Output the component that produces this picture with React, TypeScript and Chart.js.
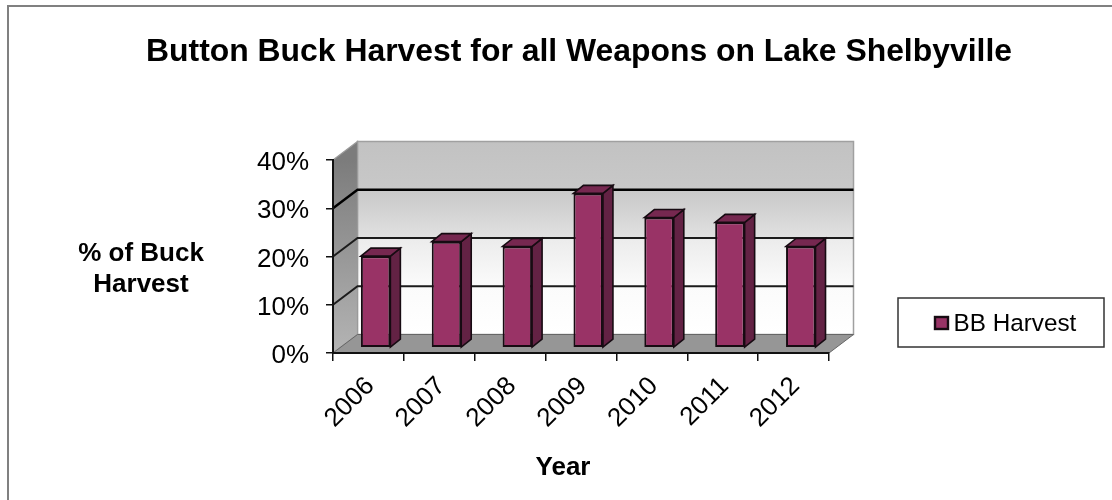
import React, { useEffect, useRef } from "react";
import { Chart, registerables } from "chart.js";

Chart.register(...registerables);

const years = ["2006", "2007", "2008", "2009", "2010", "2011", "2012"];
const bbHarvest = [19, 22, 21, 32, 27, 26, 21];
const seriesName = "BB Harvest";
const chartTitle = "Button Buck Harvest for all Weapons on Lake Shelbyville";
const xTitle = "Year";
const yTitleLines = ["% of Buck", "Harvest"];

const FONT = '"Liberation Sans", Arial, sans-serif';
const DEPTH_X = 24.5;
const DEPTH_Y = -18.5;
const BAR_SHIFT_X = 7.2;
const BAR_SHIFT_Y = -5.2;
const BAR_DX = 10;
const BAR_DY = -8;
const BAR_FILL = "#993366";
const BAR_SIDE = "#632244";
const BAR_TOP = "#762850";
const BAR_EDGE = "#170b12";

const poly = (ctx: CanvasRenderingContext2D, pts: number[][]) => {
  ctx.beginPath();
  pts.forEach(([x, y], i) => (i ? ctx.lineTo(x, y) : ctx.moveTo(x, y)));
  ctx.closePath();
};

const scene3d = {
  id: "scene3d",
  beforeDraw(chart: any) {
    const { ctx, chartArea: a, scales } = chart;
    const { left: l, right: r, top: t, bottom: b } = a;
    const dx = DEPTH_X;
    const dy = DEPTH_Y;
    ctx.save();
    ctx.fillStyle = "#fff";
    ctx.fillRect(0, 0, chart.width, chart.height);

    // chart frame (only the top and left edges reach inside the picture)
    ctx.strokeStyle = "#808080";
    ctx.lineWidth = 2;
    ctx.beginPath();
    ctx.moveTo(8, chart.height);
    ctx.lineTo(8, 6);
    ctx.lineTo(chart.width, 6);
    ctx.stroke();

    // back wall
    const back = ctx.createLinearGradient(0, t + dy, 0, b + dy);
    back.addColorStop(0, "#c2c2c2");
    back.addColorStop(0.25, "#c8c8c8");
    back.addColorStop(0.49, "#e0e0e0");
    back.addColorStop(0.51, "#ececec");
    back.addColorStop(0.75, "#fbfbfb");
    back.addColorStop(1, "#ffffff");
    ctx.fillStyle = back;
    ctx.fillRect(l + dx, t + dy, r - l, b - t);
    ctx.strokeStyle = "#a0a0a0";
    ctx.lineWidth = 1.5;
    ctx.strokeRect(l + dx, t + dy, r - l, b - t);

    // left wall
    const side = ctx.createLinearGradient(0, t, 0, b);
    side.addColorStop(0, "#7c7c7c");
    side.addColorStop(1, "#b4b4b4");
    ctx.fillStyle = side;
    poly(ctx, [[l, t], [l + dx, t + dy], [l + dx, b + dy], [l, b]]);
    ctx.fill();
    ctx.strokeStyle = "#9a9a9a";
    ctx.lineWidth = 1.2;
    ctx.stroke();

    // floor
    ctx.fillStyle = "#969696";
    poly(ctx, [[l, b], [l + dx, b + dy], [r + dx, b + dy], [r, b]]);
    ctx.fill();
    ctx.strokeStyle = "#666";
    ctx.lineWidth = 1;
    ctx.stroke();

    // gridlines across both walls
    const yScale = scales.y;
    yScale.ticks.forEach((tick: any) => {
      if (tick.value <= 0 || tick.value >= 40) return;
      const y = yScale.getPixelForValue(tick.value);
      ctx.strokeStyle = tick.value === 30 ? "#000" : "#1c1c1c";
      ctx.lineWidth = tick.value === 30 ? 2.4 : 2;
      ctx.beginPath();
      ctx.moveTo(l, y);
      ctx.lineTo(l + dx, y + dy);
      ctx.lineTo(r + dx, y + dy);
      ctx.stroke();
    });
    ctx.restore();
  },
  beforeDatasetsDraw(chart: any) {
    const { ctx } = chart;
    ctx.save();
    ctx.translate(BAR_SHIFT_X, BAR_SHIFT_Y);
    ctx.lineWidth = 1.6;
    ctx.strokeStyle = BAR_EDGE;
    ctx.lineJoin = "miter";
    chart.getDatasetMeta(0).data.forEach((el: any) => {
      const x0 = el.x - el.width / 2;
      const x1 = el.x + el.width / 2;
      ctx.fillStyle = BAR_SIDE;
      poly(ctx, [[x1, el.y], [x1 + BAR_DX, el.y + BAR_DY], [x1 + BAR_DX, el.base + BAR_DY], [x1, el.base]]);
      ctx.fill();
      ctx.stroke();
      ctx.fillStyle = BAR_TOP;
      poly(ctx, [[x0, el.y], [x0 + BAR_DX, el.y + BAR_DY], [x1 + BAR_DX, el.y + BAR_DY], [x1, el.y]]);
      ctx.fill();
      ctx.stroke();
    });
  },
  afterDatasetsDraw(chart: any) {
    chart.ctx.restore();
  },
  afterDraw(chart: any) {
    const { ctx } = chart;
    ctx.save();
    ctx.fillStyle = "#000";
    ctx.textBaseline = "alphabetic";
    ctx.textAlign = "center";
    ctx.font = `bold 31.9px ${FONT}`;
    ctx.fillText(chartTitle, 579, 60.5);
    ctx.font = `bold 26px ${FONT}`;
    ctx.fillText(xTitle, 563, 475);
    ctx.fillText(yTitleLines[0], 141, 261);
    ctx.fillText(yTitleLines[1], 141, 292);

    // legend
    ctx.strokeStyle = "#333";
    ctx.lineWidth = 1.5;
    ctx.fillStyle = "#fff";
    ctx.fillRect(898, 298, 206, 49);
    ctx.strokeRect(898, 298, 206, 49);
    ctx.fillStyle = BAR_FILL;
    ctx.strokeStyle = BAR_EDGE;
    ctx.lineWidth = 2.4;
    ctx.fillRect(935, 317, 13, 12);
    ctx.strokeRect(935, 317, 13, 12);
    ctx.fillStyle = "#000";
    ctx.textAlign = "left";
    ctx.font = `24.3px ${FONT}`;
    ctx.fillText(chart.data.datasets[0].label, 953.5, 331);
    ctx.restore();
  },
};

export default function App() {
  const ref = useRef<HTMLCanvasElement | null>(null);
  useEffect(() => {
    const chart = new Chart(ref.current as HTMLCanvasElement, {
      type: "bar",
      data: {
        labels: years,
        datasets: [
          {
            label: seriesName,
            data: bbHarvest,
            backgroundColor: BAR_FILL,
            borderColor: BAR_EDGE,
            borderWidth: 2,
            borderSkipped: false,
            categoryPercentage: 1,
            barPercentage: 0.416,
          },
        ],
      },
      plugins: [scene3d],
      options: {
        responsive: false,
        animation: false,
        devicePixelRatio: 1,
        layout: { padding: { left: 0, right: 283, top: 160, bottom: 0 } },
        plugins: { legend: { display: false }, title: { display: false }, tooltip: { enabled: false } },
        scales: {
          x: {
            type: "category",
            offset: true,
            afterFit: (s: any) => {
              s.height = 147;
            },
            border: { color: "#111", width: 2 },
            grid: { color: "#111", offset: true, drawOnChartArea: false, tickLength: 8, lineWidth: 1.5 },
            ticks: {
              autoSkip: false,
              maxRotation: 45,
              minRotation: 45,
              padding: 10,
              labelOffset: 2,
              color: "#000",
              font: { family: FONT, size: 26 },
            },
          },
          y: {
            min: 0,
            max: 40,
            afterFit: (s: any) => {
              s.width = 333;
            },
            border: { color: "#111", width: 2 },
            grid: { color: "#111", drawOnChartArea: false, tickLength: 7, lineWidth: 1.5 },
            ticks: {
              stepSize: 10,
              padding: 17,
              labelOffset: 3,
              color: "#000",
              font: { family: FONT, size: 26 },
              callback: (v: any) => `${v}%`,
            },
          },
        },
      },
    } as any);
    return () => chart.destroy();
  }, []);
  return (
    <canvas
      ref={ref}
      width={1112}
      height={500}
      style={{ position: "fixed", left: 0, top: 0, width: 1112, height: 500, display: "block" }}
    />
  );
}
